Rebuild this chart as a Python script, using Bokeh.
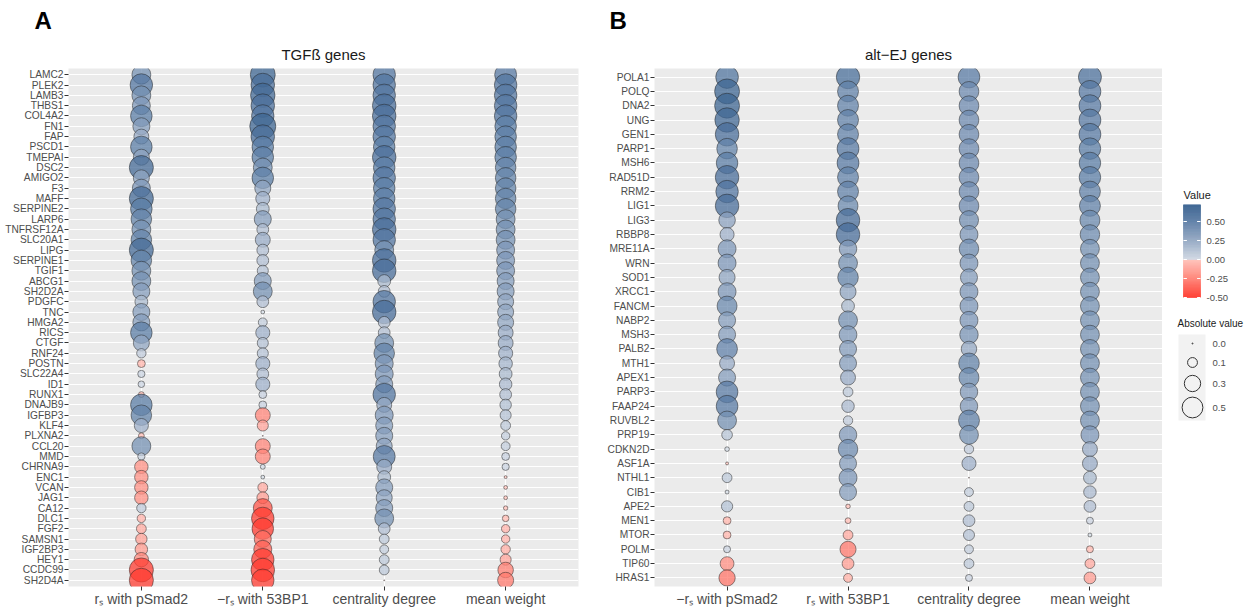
import numpy as np
from bokeh.plotting import figure
from bokeh.models import ColumnDataSource, FactorRange, Range1d, LinearColorMapper, Title
from bokeh.layouts import row
from bokeh.core.properties import value
from bokeh.embed import file_html
from bokeh.resources import INLINE

FONT = "Liberation Sans"

# ---------------- data: panel A (TGFß genes) ----------------
tgfb_genes = ["LAMC2", "PLEK2", "LAMB3", "THBS1", "COL4A2", "FN1", "FAP", "PSCD1", "TMEPAI", "DSC2",
              "AMIGO2", "F3", "MAFF", "SERPINE2", "LARP6", "TNFRSF12A", "SLC20A1", "LIPG", "SERPINE1", "TGIF1",
              "ABCG1", "SH2D2A", "PDGFC", "TNC", "HMGA2", "RICS", "CTGF", "RNF24", "POSTN", "SLC22A4",
              "ID1", "RUNX1", "DNAJB9", "IGFBP3", "KLF4", "PLXNA2", "CCL20", "MMD", "CHRNA9", "ENC1",
              "VCAN", "JAG1", "CA12", "DLC1", "FGF2", "SAMSN1", "IGF2BP3", "HEY1", "CCDC99", "SH2D4A"]
tgfb_metrics = ["r\u209b with pSmad2", "\u2212r\u209b with 53BP1", "centrality degree", "mean weight"]
tgfb_rs_psmad2 = [0.41, 0.59, 0.41, 0.37, 0.54, 0.33, 0.25, 0.54, 0.29, 0.68,
                  0.29, 0.37, 0.68, 0.54, 0.49, 0.41, 0.49, 0.68, 0.49, 0.41,
                  0.41, 0.33, 0.18, 0.33, 0.33, 0.54, 0.29, 0.09, -0.06, 0.05,
                  0.04, -0.03, 0.54, 0.49, 0.22, -0.03, 0.41, 0.05, -0.20, -0.20,
                  -0.20, -0.20, 0.09, -0.07, -0.10, -0.14, -0.17, -0.23, -0.68, -0.68]
tgfb_neg_rs_53bp1 = [0.73, 0.65, 0.70, 0.65, 0.59, 0.80, 0.65, 0.54, 0.54, 0.41,
                     0.54, 0.29, 0.22, 0.18, 0.33, 0.15, 0.25, 0.15, 0.15, 0.13,
                     0.33, 0.41, 0.15, 0.01, 0.08, 0.22, 0.13, 0.13, 0.22, 0.15,
                     0.22, 0.06, 0.06, -0.25, -0.13, 0.0, -0.25, -0.25, 0.02, 0.01,
                     -0.10, -0.15, -0.41, -0.59, -0.54, -0.33, -0.37, -0.59, -0.65, -0.59]
tgfb_centrality = [0.59, 0.59, 0.59, 0.65, 0.65, 0.59, 0.59, 0.54, 0.65, 0.54,
                   0.59, 0.54, 0.54, 0.59, 0.59, 0.65, 0.59, 0.41, 0.65, 0.65,
                   0.18, 0.15, 0.59, 0.65, 0.15, 0.15, 0.41, 0.49, 0.37, 0.37,
                   0.33, 0.59, 0.25, 0.37, 0.33, 0.33, 0.29, 0.56, 0.25, 0.18,
                   0.33, 0.29, 0.33, 0.41, 0.15, 0.10, 0.08, 0.10, 0.10, 0.0]
tgfb_mean_weight = [0.56, 0.59, 0.59, 0.59, 0.59, 0.54, 0.54, 0.54, 0.54, 0.49,
                    0.49, 0.49, 0.49, 0.49, 0.41, 0.41, 0.41, 0.37, 0.37, 0.37,
                    0.33, 0.33, 0.29, 0.29, 0.29, 0.25, 0.25, 0.22, 0.20, 0.18,
                    0.17, 0.15, 0.14, 0.13, 0.10, 0.07, 0.08, 0.06, 0.05, -0.005,
                    -0.01, -0.01, -0.015, -0.04, -0.07, -0.07, -0.09, -0.13, -0.27, -0.29]

# ---------------- data: panel B (alt-EJ genes) ----------------
altej_genes = ["POLA1", "POLQ", "DNA2", "UNG", "GEN1", "PARP1", "MSH6", "RAD51D", "RRM2", "LIG1",
               "LIG3", "RBBP8", "MRE11A", "WRN", "SOD1", "XRCC1", "FANCM", "NABP2", "MSH3", "PALB2",
               "MTH1", "APEX1", "PARP3", "FAAP24", "RUVBL2", "PRP19", "CDKN2D", "ASF1A", "NTHL1", "CIB1",
               "APE2", "MEN1", "MTOR", "POLM", "TIP60", "HRAS1"]
altej_metrics = ["\u2212r\u209b with pSmad2", "r\u209b with 53BP1", "centrality degree", "mean weight"]
altej_neg_rs_psmad2 = [0.60, 0.73, 0.73, 0.70, 0.65, 0.49, 0.54, 0.65, 0.59, 0.65,
                       0.31, 0.22, 0.37, 0.37, 0.29, 0.37, 0.46, 0.33, 0.33, 0.50,
                       0.25, 0.33, 0.55, 0.55, 0.41, 0.12, 0.017, -0.005, 0.10, 0.011,
                       0.135, -0.06, -0.06, 0.046, -0.21, -0.30]
altej_rs_53bp1 = [0.64, 0.51, 0.51, 0.51, 0.51, 0.56, 0.56, 0.51, 0.51, 0.46,
                  0.65, 0.65, 0.35, 0.41, 0.49, 0.29, 0.18, 0.41, 0.36, 0.33,
                  0.33, 0.25, 0.10, 0.17, 0.09, 0.35, 0.44, 0.33, 0.37, 0.33,
                  -0.016, -0.03, -0.10, -0.29, -0.15, -0.08]
altej_centrality = [0.55, 0.45, 0.45, 0.45, 0.45, 0.45, 0.45, 0.45, 0.45, 0.45,
                    0.42, 0.37, 0.44, 0.37, 0.33, 0.37, 0.37, 0.37, 0.39, 0.27,
                    0.49, 0.46, 0.35, 0.35, 0.51, 0.41, 0.09, 0.22, 0.0, 0.08,
                    0.10, 0.15, 0.13, 0.08, 0.10, 0.046]
altej_mean_weight = [0.62, 0.56, 0.56, 0.56, 0.56, 0.54, 0.54, 0.54, 0.51, 0.51,
                     0.46, 0.44, 0.41, 0.41, 0.41, 0.41, 0.41, 0.41, 0.41, 0.41,
                     0.41, 0.41, 0.41, 0.41, 0.41, 0.37, 0.25, 0.25, 0.18, 0.17,
                     0.15, 0.046, 0.011, -0.046, -0.10, -0.15]

# ---------------- legend data ----------------
colorbar_ticks = [-0.5, -0.25, 0.0, 0.25, 0.5]
colorbar_labels = ["-0.50", "-0.25", "0.00", "0.25", "0.50"]
size_legend_values = [0.0, 0.1, 0.3, 0.5]
size_legend_labels = ["0.0", "0.1", "0.3", "0.5"]

# ---------------- colour scale ----------------
VAL_LOW, VAL_HIGH = -0.5, 0.72
neg_stops = [(-0.5, "#ff3b30"), (-0.25, "#ff8579"), (0.0, "#ffc3bb")]
pos_stops = [(0.0, "#d4dbe5"), (0.25, "#98abc5"), (0.5, "#6282a9"), (0.72, "#3d6592")]


def _rgb(h):
    return tuple(int(h[i:i + 2], 16) for i in (1, 3, 5))


def _interp(stops, v):
    if v <= stops[0][0]:
        return stops[0][1]
    for (v0, c0), (v1, c1) in zip(stops, stops[1:]):
        if v0 <= v <= v1:
            t = (v - v0) / (v1 - v0)
            a, b = _rgb(c0), _rgb(c1)
            return "#%02x%02x%02x" % tuple(int(round(a[k] + t * (b[k] - a[k]))) for k in range(3))
    return stops[-1][1]


N_PAL = 256
palette = []
for i in range(N_PAL):
    v = VAL_LOW + (i + 0.5) * (VAL_HIGH - VAL_LOW) / N_PAL
    palette.append(_interp(neg_stops if v < 0 else pos_stops, v))
mapper = LinearColorMapper(palette=palette, low=VAL_LOW, high=VAL_HIGH)


def bubble_size(vals):
    return 1.0 + 28.0 * np.sqrt(np.abs(np.asarray(vals, dtype=float)))


H = 610
TOP = 68      # frame top (px)
BOTTOM = 24   # x-axis band (px)


def make_panel(genes, metrics, columns, title, letter, width, border_left, border_right, letter_offset):
    gene_col, metric_col, val_col = [], [], []
    for gi, g in enumerate(genes):
        for m, col in zip(metrics, columns):
            gene_col.append(g)
            metric_col.append(m)
            val_col.append(col[gi])
    src = ColumnDataSource(dict(gene=gene_col, metric=metric_col, value=val_col,
                                size=bubble_size(val_col)))
    p = figure(width=width, height=H,
               x_range=FactorRange(factors=list(metrics), range_padding=0.1, range_padding_units="absolute"),
               y_range=FactorRange(factors=list(genes[::-1]), range_padding=0.1, range_padding_units="absolute"),
               output_backend="svg", toolbar_location=None, title=None,
               min_border_left=border_left, min_border_right=border_right,
               min_border_top=TOP, min_border_bottom=BOTTOM)
    p.add_layout(Title(text=title, align="center", text_font=FONT, text_font_size="15px",
                       text_font_style="normal", text_color="#1a1a1a", standoff=12), "above")
    p.add_layout(Title(text=letter, align="left", offset=letter_offset, text_font=FONT,
                       text_font_size="24px", text_font_style="bold", text_color="black",
                       standoff=8), "above")
    p.background_fill_color = "#ebebeb"
    p.border_fill_color = "white"
    p.outline_line_color = None
    p.xgrid.grid_line_color = "white"
    p.xgrid.grid_line_width = 1.1
    p.ygrid.grid_line_color = "white"
    p.ygrid.grid_line_width = 1.1
    for ax in (p.xaxis[0], p.yaxis[0]):
        ax.axis_line_color = None
        ax.major_tick_line_color = "#333333"
        ax.major_tick_out = 4
        ax.major_tick_in = 0
        ax.minor_tick_line_color = None
        ax.major_label_text_font = FONT
        ax.major_label_text_color = "#4d4d4d"
    p.yaxis.major_label_text_font_size = "10.2px"
    p.yaxis.major_label_standoff = 1
    p.xaxis.major_label_text_font_size = "14px"
    p.xaxis.major_label_standoff = 0
    p.scatter(x="metric", y="gene", size="size", source=src,
              fill_color={"field": "value", "transform": mapper}, fill_alpha=0.75,
              line_color="#222222", line_alpha=0.55, line_width=0.9)
    return p


p1 = make_panel(tgfb_genes, tgfb_metrics,
                [tgfb_rs_psmad2, tgfb_neg_rs_53bp1, tgfb_centrality, tgfb_mean_weight],
                "TGF\u00df genes", "A", 600, 68, 22, -34)
p2 = make_panel(altej_genes, altej_metrics,
                [altej_neg_rs_psmad2, altej_rs_53bp1, altej_centrality, altej_mean_weight],
                "alt\u2212EJ genes", "B", 562, 54, 0, -45)

# ---------------- legend panel (data units = page pixels) ----------------
LX0, LW = 1162, 82
p3 = figure(width=LW, height=H, x_range=Range1d(LX0, LX0 + LW), y_range=Range1d(H - BOTTOM, TOP),
            output_backend="svg", toolbar_location=None, title=None,
            x_axis_location=None, y_axis_location=None,
            min_border_left=0, min_border_right=0, min_border_top=TOP, min_border_bottom=BOTTOM)
p3.outline_line_color = None
p3.grid.visible = False
p3.background_fill_color = "white"
p3.border_fill_color = "white"

# colour bar drawn through the colour mapper
CB_LEFT, CB_RIGHT, CB_Y_LOW, CB_PX_PER_UNIT = 1183, 1200, 297, 76.0


def cb_y(v):
    return CB_Y_LOW - (np.asarray(v, dtype=float) - VAL_LOW) * CB_PX_PER_UNIT


edges = np.linspace(VAL_LOW, VAL_HIGH, 123)
mids = (edges[:-1] + edges[1:]) / 2
cb_src = ColumnDataSource(dict(v=mids, bottom=cb_y(edges[:-1]), top=cb_y(edges[1:])))
p3.quad(left=CB_LEFT, right=CB_RIGHT, bottom="bottom", top="top", source=cb_src,
        fill_color={"field": "v", "transform": mapper},
        line_color={"field": "v", "transform": mapper}, line_width=0.6)
tick_y = cb_y(colorbar_ticks)
p3.segment(x0=[CB_LEFT] * 5, x1=[CB_LEFT + 3.4] * 5, y0=tick_y, y1=tick_y, line_color="white", line_width=1)
p3.segment(x0=[CB_RIGHT - 3.4] * 5, x1=[CB_RIGHT] * 5, y0=tick_y, y1=tick_y, line_color="white", line_width=1)
p3.text(x=[1206] * 5, y=tick_y, text=colorbar_labels, text_font=value(FONT),
        text_font_size=value("9.5px"), text_color="#4d4d4d", text_baseline="middle", text_align="left")
p3.text(x=[1183], y=[194], text=["Value"], text_font=value(FONT),
        text_font_size=value("11px"), text_color="#1a1a1a", text_baseline="middle", text_align="left")

# size legend
key_y = [343, 362, 383, 407]
p3.quad(left=[1178], right=[1205], top=[334], bottom=[420], fill_color="#f2f2f2", line_color=None)
p3.scatter(x=[1192] * 4, y=key_y, size=bubble_size(size_legend_values), fill_alpha=0,
           line_color="#333333", line_width=1)
p3.text(x=[1212] * 4, y=key_y, text=size_legend_labels, text_font=value(FONT),
        text_font_size=value("9.5px"), text_color="#4d4d4d", text_baseline="middle", text_align="left")
p3.text(x=[1177], y=[323], text=["Absolute value"], text_font=value(FONT),
        text_font_size=value("10px"), text_color="#1a1a1a", text_baseline="middle", text_align="left")

layout = row(p1, p2, p3)
open("out.html", "w").write(file_html(layout, INLINE))
